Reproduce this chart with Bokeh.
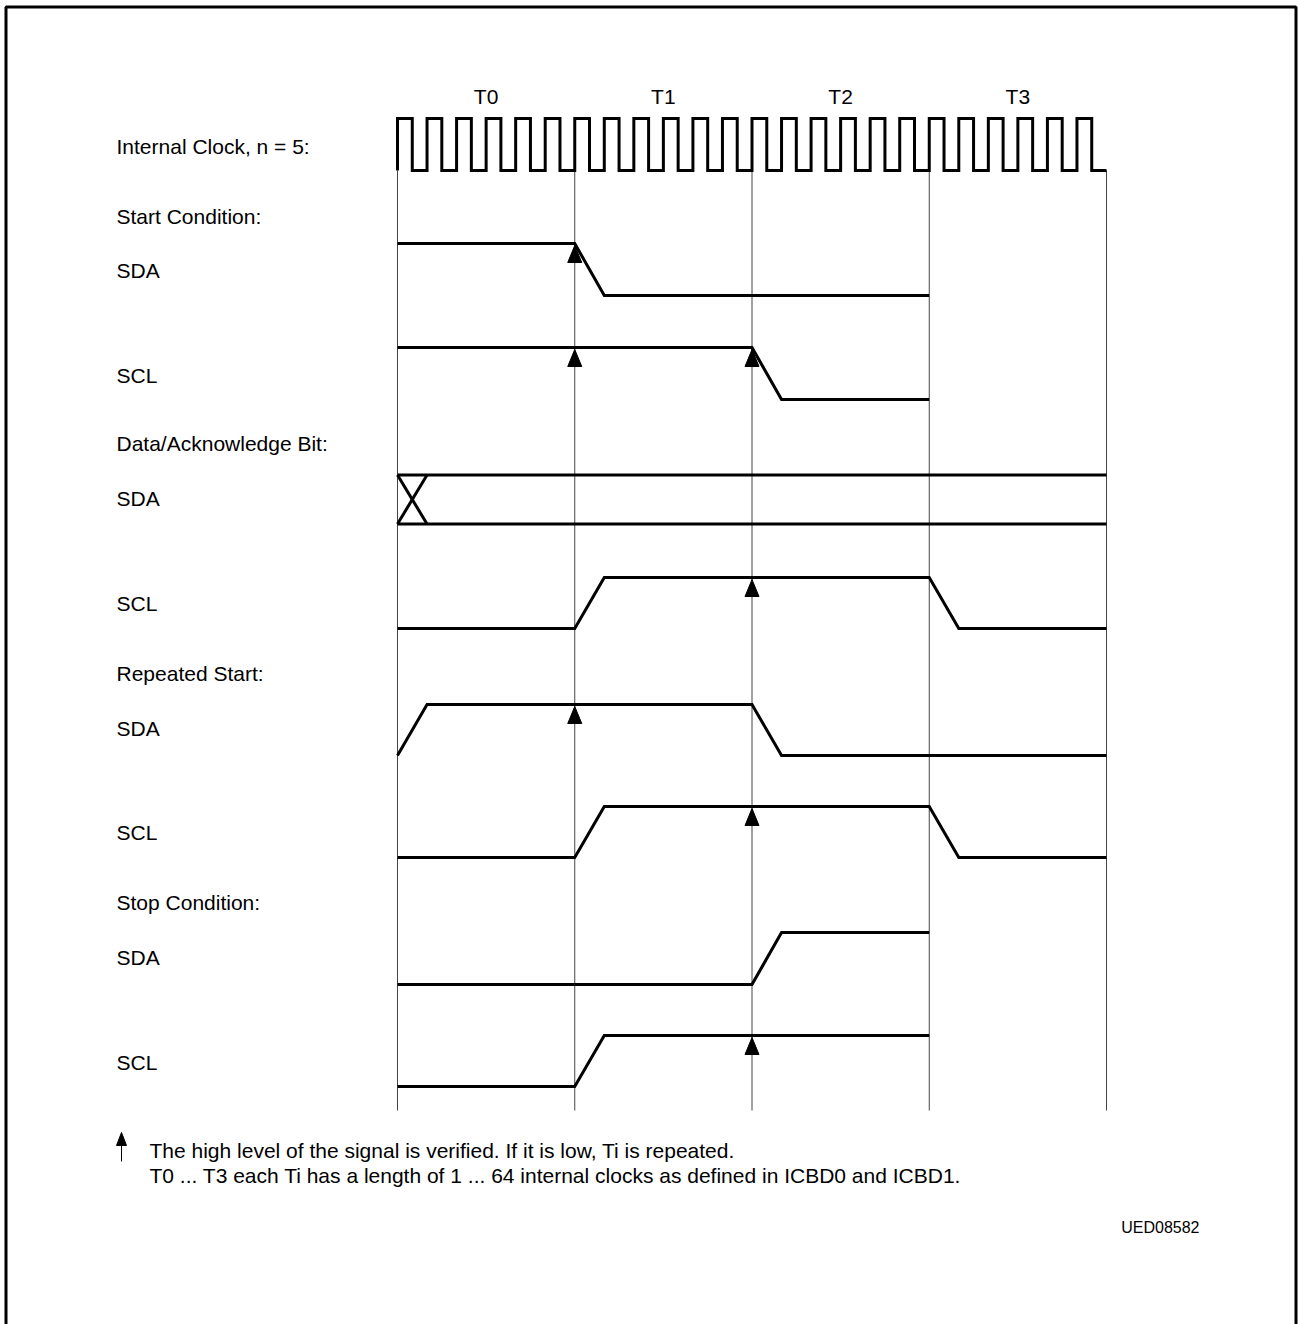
from bokeh.plotting import figure
from bokeh.models import Range1d
from bokeh.core.properties import value
from bokeh.embed import file_html
from bokeh.resources import INLINE

# ---------------- data ----------------
period_labels = ["T0", "T1", "T2", "T3"]
period_bounds = [0, 1, 2, 3, 4]          # in units of Ti
clocks_per_T = 6                          # internal clock pulses drawn per Ti
edge = 1 / 6                              # slope duration of SDA/SCL edges (one clock)

section_titles = ["Internal Clock, n = 5:", "Start Condition:", "Data/Acknowledge Bit:",
                  "Repeated Start:", "Stop Condition:"]
row_names = ["SDA", "SCL", "SDA", "SCL", "SDA", "SCL", "SDA", "SCL"]

# waveforms: (time in Ti, level 0/1)
start_sda_t = [0, 1, 1 + edge, 3]
start_sda_v = [1, 1, 0, 0]
start_scl_t = [0, 2, 2 + edge, 3]
start_scl_v = [1, 1, 0, 0]
data_scl_t = [0, 1, 1 + edge, 3, 3 + edge, 4]
data_scl_v = [0, 0, 1, 1, 0, 0]
rep_sda_t = [0, edge, 2, 2 + edge, 4]
rep_sda_v = [0, 1, 1, 0, 0]
rep_scl_t = [0, 1, 1 + edge, 3, 3 + edge, 4]
rep_scl_v = [0, 0, 1, 1, 0, 0]
stop_sda_t = [0, 2, 2 + edge, 3]
stop_sda_v = [0, 0, 1, 1]
stop_scl_t = [0, 1, 1 + edge, 3]
stop_scl_v = [0, 0, 1, 1]
# data/ack SDA: both levels possible, crossing at start
data_sda_t = [0, edge, 4]

# verification arrows: (row index, time)
arrow_rows = [0, 1, 1, 3, 4, 5, 7]
arrow_times = [1, 1, 2, 2, 1, 2, 2]

note_lines = ["The high level of the signal is verified. If it is low, Ti is repeated.",
              "T0 ... T3 each Ti has a length of 1 ... 64 internal clocks as defined in ICBD0 and ICBD1."]
code_label = "UED08582"

# ---------------- layout ----------------
W, H = 1298, 1324
X0PX, X4PX = 397.0, 1106.0
SC = (X4PX - X0PX) / 4.0


def tx(px):
    return (px - X0PX) / SC


FONT = value("Liberation Sans")
FS = "21px"

# row high / low y (page px, y downwards)
row_high = [243, 347, 474.5, 577, 704, 806, 932, 1035]
row_low = [295, 399, 523.5, 628, 755, 857, 984, 1086]
row_label_y = [270, 375, 498, 603, 728, 832, 957, 1062]
title_y = [146, 216, 443, 673, 902]

p = figure(width=W, height=H, output_backend="svg", toolbar_location=None,
           x_range=Range1d(tx(0), tx(W)), y_range=Range1d(H, 0),
           min_border=0)
p.axis.visible = False
p.xgrid.visible = False
p.ygrid.visible = False
p.outline_line_color = None
p.background_fill_color = "white"
p.border_fill_color = "white"

# frame
fx = [tx(5.5), tx(5.5), tx(1295.5), tx(1295.5)]
fy = [1340, 6.5, 6.5, 1340]
p.line(fx, fy, line_color="black", line_width=3)

# vertical guide lines
for b in period_bounds:
    p.line([b, b], [170, 1110], line_color="#444444", line_width=1)

# internal clock
CLK_HI, CLK_LO = 118, 170
ct, cv = [0], [CLK_LO]
n = clocks_per_T * 4
for k in range(n):
    t0 = k / clocks_per_T
    th = t0 + 0.5 / clocks_per_T
    t1 = (k + 1) / clocks_per_T
    ct += [t0, th, th, t1]
    cv += [CLK_HI, CLK_HI, CLK_LO, CLK_LO]
p.line(ct, cv, line_color="black", line_width=3, line_join="miter")

# period labels
for i, lab in enumerate(period_labels):
    p.text(x=[(period_bounds[i] + period_bounds[i + 1]) / 2], y=[96], text=[lab],
           text_font=FONT, text_font_size=FS, text_align="center",
           text_baseline="middle", text_color="black")

# labels
for ttl, y in zip(section_titles, title_y):
    p.text(x=[tx(116)], y=[y], text=[ttl], text_font=FONT, text_font_size=FS,
           text_align="left", text_baseline="middle", text_color="black")
for nm, y in zip(row_names, row_label_y):
    p.text(x=[tx(116)], y=[y], text=[nm], text_font=FONT, text_font_size=FS,
           text_align="left", text_baseline="middle", text_color="black")


def wave(ts, vs, r):
    ys = [row_low[r] + v * (row_high[r] - row_low[r]) for v in vs]
    p.line(ts, ys, line_color="black", line_width=3, line_join="miter")


wave(start_sda_t, start_sda_v, 0)
wave(start_scl_t, start_scl_v, 1)
# data/ack SDA with crossing
p.line([data_sda_t[0], data_sda_t[2]], [row_high[2], row_high[2]], line_color="black", line_width=3)
p.line([data_sda_t[0], data_sda_t[2]], [row_low[2], row_low[2]], line_color="black", line_width=3)
p.line([data_sda_t[0], data_sda_t[1]], [row_high[2], row_low[2]], line_color="black", line_width=3)
p.line([data_sda_t[0], data_sda_t[1]], [row_low[2], row_high[2]], line_color="black", line_width=3)
wave(data_scl_t, data_scl_v, 3)
wave(rep_sda_t, rep_sda_v, 4)
wave(rep_scl_t, rep_scl_v, 5)
wave(stop_sda_t, stop_sda_v, 6)
wave(stop_scl_t, stop_scl_v, 7)

# arrows
hw = 7 / SC
xs, ys = [], []
for r, t in zip(arrow_rows, arrow_times):
    yh = row_high[r]
    xs.append([t - hw, t, t + hw])
    ys.append([yh + 19, yh + 2, yh + 19])
p.patches(xs, ys, fill_color="black", line_color="black", line_width=1)

# footnote
ax = tx(121)
p.patches([[ax - 5 / SC, ax, ax + 5 / SC]], [[1145, 1132, 1145]], fill_color="black",
          line_color="black", line_width=1)
p.line([ax, ax], [1143, 1161], line_color="black", line_width=1)
for k, line in enumerate(note_lines):
    p.text(x=[tx(149)], y=[1150 + 25 * k], text=[line], text_font=FONT, text_font_size=FS,
           text_align="left", text_baseline="middle", text_color="black")
p.text(x=[tx(1199)], y=[1227], text=[code_label], text_font=FONT, text_font_size="16px",
       text_align="right", text_baseline="middle", text_color="black")

open("out.html", "w").write(file_html(p, INLINE))
